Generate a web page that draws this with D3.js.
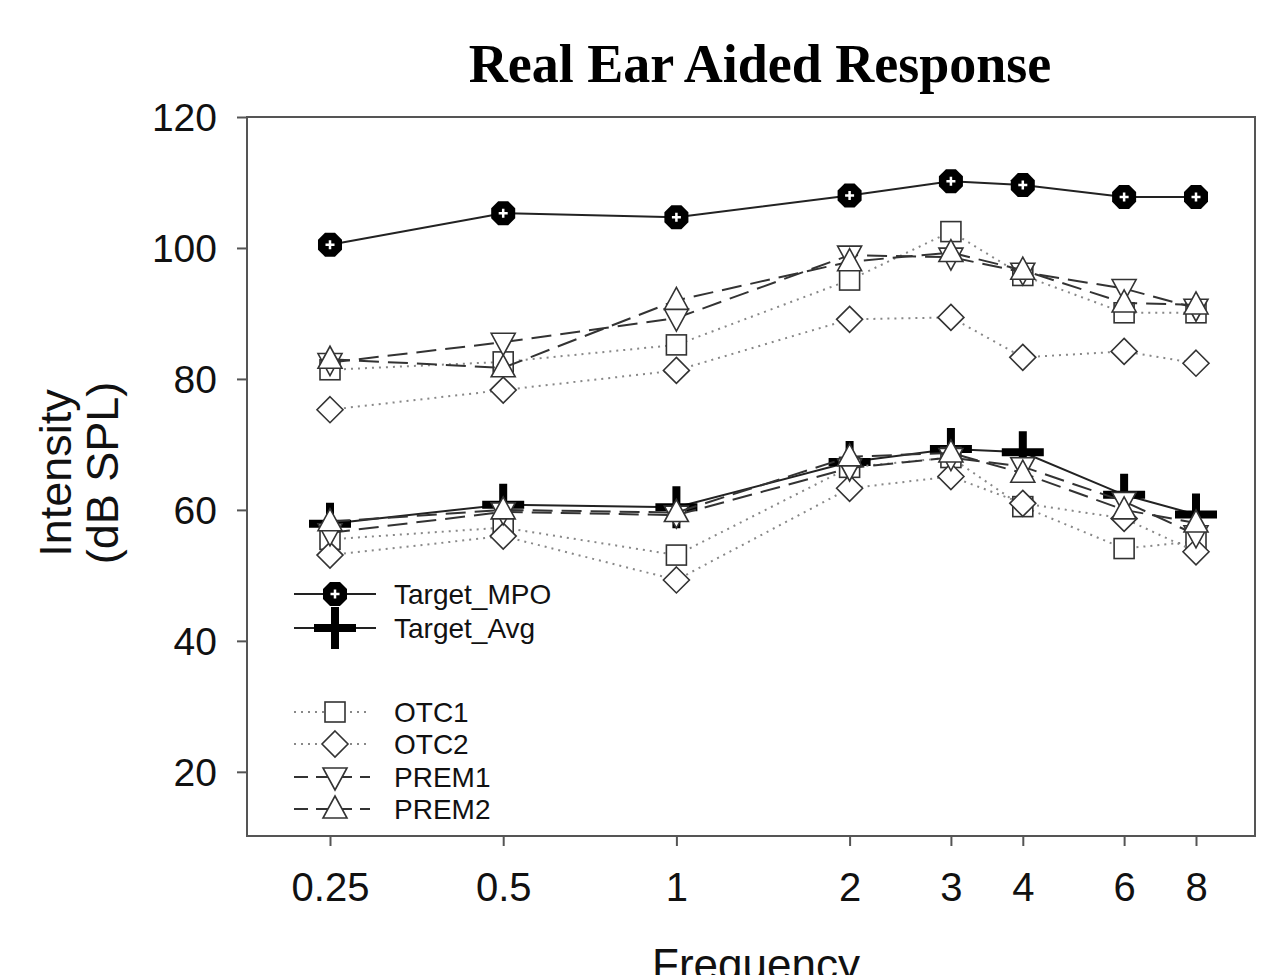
<!DOCTYPE html>
<html><head><meta charset="utf-8">
<script src="https://cdn.jsdelivr.net/npm/d3@7"></script>
<style>body{margin:0;background:#fff}svg{display:block}</style>
</head><body>
<svg id="c" width="1267" height="975"></svg>
<script>
const frequencies = [0.25, 0.5, 1, 2, 3, 4, 6, 8];
const tickLabels = ["0.25", "0.5", "1", "2", "3", "4", "6", "8"];
const yTicks = [20, 40, 60, 80, 100, 120];

const targetMPO = [100.5, 105.3, 104.7, 108.0, 110.2, 109.6, 107.8, 107.8];
const targetAvg = [57.9, 60.8, 60.4, 67.3, 69.3, 68.8, 62.3, 59.3];

const otc1Aided = [81.4, 82.6, 85.2, 95.1, 102.5, 95.8, 90.1, 90.1];
const otc2Aided = [75.3, 78.3, 81.3, 89.1, 89.4, 83.3, 84.2, 82.4];
const prem1Aided = [82.5, 85.6, 89.3, 98.9, 98.6, 96.3, 93.8, 90.8];
const prem2Aided = [83.0, 81.7, 92.0, 97.9, 99.3, 96.6, 91.6, 91.3];

const otc1Avg = [55.5, 57.3, 53.1, 66.5, 68.0, 60.5, 54.1, 55.2];
const otc2Avg = [53.1, 56.0, 49.3, 63.3, 65.1, 61.0, 58.7, 53.6];
const prem1Avg = [56.5, 59.7, 59.2, 66.4, 68.0, 66.6, 61.3, 56.2];
const prem2Avg = [58.2, 60.0, 59.6, 68.1, 68.7, 65.6, 60.0, 58.0];

(function () {
const svg = d3.select("#c");
const pL = 247, pR = 1255, pT = 117, pB = 836;
const x = d3.scaleLog().base(2).domain([0.25, 8]).range([330, 1196]);
const y = d3.scaleLinear().domain([10.2, 120]).range([pB, pT]);
const sans = "Liberation Sans, Arial, sans-serif";

svg.append("rect").attr("x", pL).attr("y", pT).attr("width", pR - pL).attr("height", pB - pT)
  .attr("fill", "none").attr("stroke", "#555").attr("stroke-width", 2);

const yAxis = d3.axisLeft(y).tickValues(yTicks).tickSize(10).tickPadding(20).tickFormat(d3.format("d"));
const gy = svg.append("g").attr("transform", `translate(${pL},0)`).call(yAxis);
gy.select(".domain").remove();
gy.selectAll("line").attr("stroke", "#555").attr("stroke-width", 2);
gy.selectAll("text").attr("font-family", sans).attr("font-size", 39).attr("fill", "#111").attr("dy", "0.35em");

const xAxis = d3.axisBottom(x).tickValues(frequencies).tickSize(10).tickPadding(27).tickFormat((d, i) => tickLabels[i]);
const gx = svg.append("g").attr("transform", `translate(0,${pB})`).call(xAxis);
gx.select(".domain").remove();
gx.selectAll("line").attr("stroke", "#555").attr("stroke-width", 2);
gx.selectAll("text").attr("font-family", sans).attr("font-size", 40).attr("fill", "#111");

svg.append("text").attr("x", 760).attr("y", 82).attr("text-anchor", "middle")
  .attr("font-family", "Liberation Serif, Times New Roman, serif").attr("font-weight", "bold").attr("font-size", 54)
  .text("Real Ear Aided Response");
svg.append("text").attr("x", 756).attr("y", 980).attr("text-anchor", "middle")
  .attr("font-family", sans).attr("font-size", 44).attr("fill", "#111").text("Frequency");
const yl = svg.append("text").attr("transform", "translate(71,473) rotate(-90)").attr("text-anchor", "middle")
  .attr("font-family", sans).attr("font-size", 45).attr("fill", "#111");
yl.append("tspan").attr("x", 0).attr("dy", 0).text("Intensity");
yl.append("tspan").attr("x", 0).attr("dy", 47).text("(dB SPL)");

function drawMarker(g, type, cx, cy) {
  if (type === "mpo") {
    const r = 13;
    const pts = d3.range(8).map(k => { const a = Math.PI / 8 + k * Math.PI / 4; return [cx + r * Math.cos(a), cy + r * Math.sin(a)]; });
    g.append("polygon").attr("points", pts.map(p => p.join(",")).join(" ")).attr("fill", "#000");
    g.append("path").attr("d", `M${cx - 4.5},${cy}H${cx + 4.5}M${cx},${cy - 4.5}V${cy + 4.5}`).attr("stroke", "#fff").attr("stroke-width", 2.5);
  } else if (type === "plus") {
    g.append("path").attr("d", `M${cx - 21},${cy}H${cx + 21}M${cx},${cy - 21}V${cy + 21}`).attr("stroke", "#000").attr("stroke-width", 8);
  } else if (type === "square") {
    g.append("rect").attr("x", cx - 10).attr("y", cy - 10).attr("width", 20).attr("height", 20)
      .attr("fill", "#fff").attr("stroke", "#333").attr("stroke-width", 1.6);
  } else if (type === "diamond") {
    g.append("path").attr("d", `M${cx},${cy - 13}L${cx + 13},${cy}L${cx},${cy + 13}L${cx - 13},${cy}Z`)
      .attr("fill", "#fff").attr("stroke", "#333").attr("stroke-width", 1.6);
  } else if (type === "down") {
    g.append("path").attr("d", `M${cx - 12},${cy - 9}L${cx + 12},${cy - 9}L${cx},${cy + 13}Z`)
      .attr("fill", "#fff").attr("stroke", "#333").attr("stroke-width", 1.6);
  } else if (type === "up") {
    g.append("path").attr("d", `M${cx - 12},${cy + 9}L${cx + 12},${cy + 9}L${cx},${cy - 13}Z`)
      .attr("fill", "#fff").attr("stroke", "#333").attr("stroke-width", 1.6);
  }
}

const styles = {
  mpo: { stroke: "#222", width: 2, dash: null },
  plus: { stroke: "#222", width: 2, dash: null },
  square: { stroke: "#888", width: 2, dash: "2,5" },
  diamond: { stroke: "#888", width: 2, dash: "2,5" },
  down: { stroke: "#333", width: 2, dash: "20,9" },
  up: { stroke: "#333", width: 2, dash: "20,9" }
};

const series = [
  { vals: targetMPO, type: "mpo" },
  { vals: targetAvg, type: "plus" },
  { vals: otc1Aided, type: "square" },
  { vals: otc1Avg, type: "square" },
  { vals: otc2Aided, type: "diamond" },
  { vals: otc2Avg, type: "diamond" },
  { vals: prem1Aided, type: "down" },
  { vals: prem1Avg, type: "down" },
  { vals: prem2Aided, type: "up" },
  { vals: prem2Avg, type: "up" }
];

const line = d3.line().x((d, i) => x(frequencies[i])).y(d => y(d));
series.forEach(s => {
  const st = styles[s.type];
  svg.append("path").attr("d", line(s.vals)).attr("fill", "none").attr("stroke", st.stroke)
    .attr("stroke-width", st.width).attr("stroke-dasharray", st.dash);
  const g = svg.append("g");
  s.vals.forEach((v, i) => drawMarker(g, s.type, x(frequencies[i]), y(v)));
});

const legendItems = [
  { label: "Target_MPO", type: "mpo", ly: 594 },
  { label: "Target_Avg", type: "plus", ly: 628 },
  { label: "OTC1", type: "square", ly: 712 },
  { label: "OTC2", type: "diamond", ly: 744 },
  { label: "PREM1", type: "down", ly: 777 },
  { label: "PREM2", type: "up", ly: 809 }
];
legendItems.forEach(it => {
  const st = styles[it.type];
  const lg = svg.append("g");
  const isTarget = it.type === "mpo" || it.type === "plus";
  const x0 = 294, x1 = isTarget ? 376 : 370;
  lg.append("line").attr("x1", x0).attr("x2", x1).attr("y1", it.ly).attr("y2", it.ly)
    .attr("stroke", st.stroke).attr("stroke-width", st.width)
    .attr("stroke-dasharray", it.type === "up" || it.type === "down" ? "14,8" : st.dash);
  drawMarker(lg, it.type, 335, it.ly);
  lg.append("text").attr("x", 394).attr("y", it.ly).attr("dy", "0.35em")
    .attr("font-family", sans).attr("font-size", 28).attr("fill", "#111").text(it.label);
});
})();
</script>
</body></html>
